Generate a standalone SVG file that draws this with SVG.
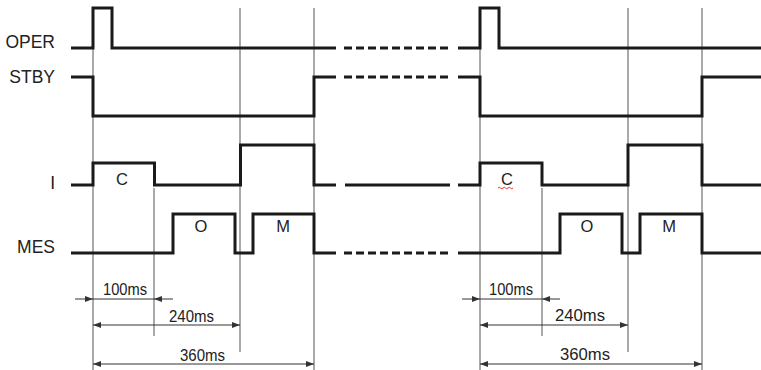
<svg xmlns="http://www.w3.org/2000/svg" width="761" height="370" viewBox="0 0 761 370">
<style>
.sig{fill:none;stroke:#1a1a1a;stroke-width:3;stroke-linejoin:miter;stroke-linecap:butt}
.dash{fill:none;stroke:#1a1a1a;stroke-width:3;stroke-dasharray:8 4}
.thin{fill:none;stroke:#555;stroke-width:1}
.dim{fill:none;stroke:#333;stroke-width:1}
.lbl{font-family:"Liberation Sans",Arial,sans-serif;font-size:17.5px;fill:#222;text-anchor:end}
.st{font-family:"Liberation Sans",Arial,sans-serif;font-size:16.5px;fill:#222;text-anchor:middle}
.dt{font-family:"Liberation Sans",Arial,sans-serif;font-size:17px;fill:#222}
</style>
<defs>
<marker id="arr" markerUnits="userSpaceOnUse" markerWidth="8" markerHeight="6" refX="8" refY="3" orient="auto-start-reverse">
<path d="M0,0 L8,3 L0,6 Z" fill="#333"/>
</marker>
</defs>
<g id="labels">
<text class="lbl" x="55" y="48">OPER</text>
<text class="lbl" x="55" y="83">STBY</text>
<text class="lbl" x="55" y="189">I</text>
<text class="lbl" x="55" y="253">MES</text>
</g>
<g id="guides">
<path class="thin" d="M93 8 V370 M240 8 V352 M314 8 V370 M154 188 V336"/>
<path class="thin" d="M480 8 V370 M628 8 V352 M702 8 V370 M542 188 V336"/>
</g>
<g id="OPER">
<path class="sig" d="M71 48 H93 V8 H112 V48 H336"/>
<path class="dash" d="M344 48 H450"/>
<path class="sig" d="M458 48 H480 V8 H499 V48 H761"/>
</g>
<g id="STBY">
<path class="sig" d="M71 77 H93 V116 H314 V77 H336"/>
<path class="dash" d="M344 77 H450"/>
<path class="sig" d="M458 77 H480 V116 H702 V77 H761"/>
</g>
<g id="I">
<path class="sig" d="M71 185 H93 V163 H154.5 V185 H240.5 V145 H314 V185 H336"/>
<path class="sig" d="M345 185 H450"/>
<path class="sig" d="M458 185 H480 V163 H542 V185 H628 V145 H702 V185 H761"/>
<text class="st" x="122" y="185">C</text>
<text class="st" x="507" y="185">C</text>
<path d="M498 188 q1.25 -1.5 2.5 0 t2.5 0 t2.5 0 t2.5 0 t2.5 0 t2.5 0" fill="none" stroke="#e33" stroke-width="1"/>
</g>
<g id="MES">
<path class="sig" d="M71 253 H173 V214 H235 V253 H253 V214 H314 V253 H336"/>
<path class="dash" d="M344 253 H450"/>
<path class="sig" d="M458 253 H560 V214 H622 V253 H640 V214 H702 V253 H761"/>
<text class="st" x="201" y="232">O</text>
<text class="st" x="283" y="232">M</text>
<text class="st" x="587" y="232">O</text>
<text class="st" x="669" y="232">M</text>
</g>
<g id="connectors">
<path class="dim" d="M75 299 H93" marker-end="url(#arr)"/>
<path class="dim" d="M173 299 H154" marker-end="url(#arr)"/>
<path class="dim" d="M93 299 H154"/>
<path class="dim" d="M93 325 H240" marker-start="url(#arr)" marker-end="url(#arr)"/>
<path class="dim" d="M93 364 H314" marker-start="url(#arr)" marker-end="url(#arr)"/>
<path class="dim" d="M462 299 H480" marker-end="url(#arr)"/>
<path class="dim" d="M560 299 H542" marker-end="url(#arr)"/>
<path class="dim" d="M480 299 H542"/>
<path class="dim" d="M480 325 H628" marker-start="url(#arr)" marker-end="url(#arr)"/>
<path class="dim" d="M480 364 H702" marker-start="url(#arr)" marker-end="url(#arr)"/>
</g>
<g id="dimtext">
<text class="dt" x="103" y="295" textLength="44" lengthAdjust="spacingAndGlyphs">100ms</text>
<text class="dt" x="169" y="321.5" textLength="45" lengthAdjust="spacingAndGlyphs">240ms</text>
<text class="dt" x="180" y="360.5" textLength="45" lengthAdjust="spacingAndGlyphs">360ms</text>
<text class="dt" x="489" y="294.5" textLength="44" lengthAdjust="spacingAndGlyphs">100ms</text>
<text class="dt" x="555" y="320.5" textLength="50" lengthAdjust="spacingAndGlyphs">240ms</text>
<text class="dt" x="560" y="359.5" textLength="50" lengthAdjust="spacingAndGlyphs">360ms</text>
</g>
</svg>
